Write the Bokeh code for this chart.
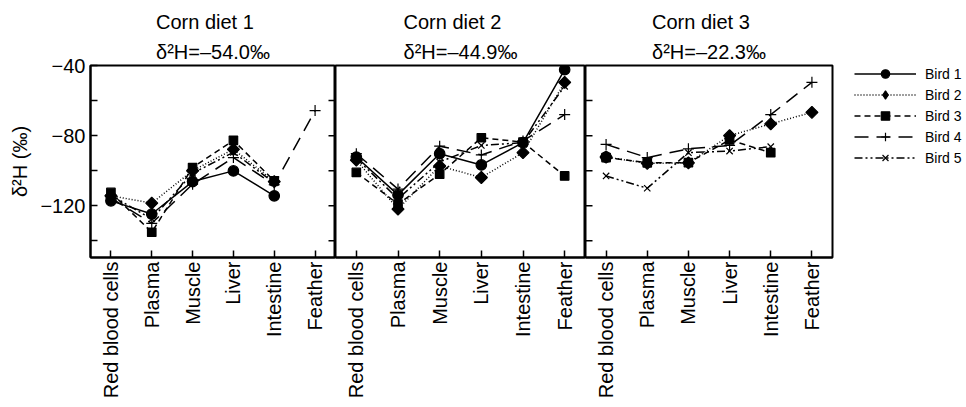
import math
from bokeh.plotting import figure
from bokeh.layouts import row
from bokeh.models import FixedTicker, Range1d, Legend, LegendItem
from bokeh.embed import file_html
from bokeh.resources import INLINE

nan = float("nan")

tissues = ["Red blood cells", "Plasma", "Muscle", "Liver", "Intestine", "Feather"]
diets = ["Corn diet 1", "Corn diet 2", "Corn diet 3"]
diet_d2h = ["δ²H=–54.0‰", "δ²H=–44.9‰", "δ²H=–22.3‰"]
birds = ["Bird 1", "Bird 2", "Bird 3", "Bird 4", "Bird 5"]

# values per diet (rows) and tissue (columns)
bird1 = [[-117.2, -124.7, -106.2, -100.1, -114.3, nan],
         [-92.2, -113.8, -90.3, -96.7, -84.0, -42.4],
         [-92.2, nan, nan, nan, nan, nan]]
bird2 = [[-114.3, -118.5, -100.0, -87.8, -106.2, nan],
         [-94.0, -121.9, -97.3, -103.9, -89.7, -49.6],
         [-92.2, -95.8, -95.5, -80.0, -73.3, -66.7]]
bird3 = [[-112.4, -135.1, -98.2, -82.7, -105.8, nan],
         [-101.0, -119.0, -102.0, -81.2, -83.7, -103.0],
         [-92.5, -95.5, -95.4, -82.5, -89.7, nan]]
bird4 = [[-115.5, -130.0, -107.7, -92.5, -108.0, -65.7],
         [-90.3, -110.5, -86.0, -91.0, -83.0, -68.0],
         [-85.0, -92.5, -87.5, -85.6, -68.0, -49.6]]
bird5 = [[-114.0, -127.5, -101.5, -89.5, -107.0, nan],
         [-93.0, -116.0, -95.0, -85.6, -84.0, -51.9],
         [-103.0, -110.0, -89.7, -88.8, -86.3, nan]]
bird_data = [bird1, bird2, bird3, bird4, bird5]

y_ticks = [-140, -120, -100, -80, -60, -40]
y_tick_labels = ["", "−120", "", "−80", "", "−40"]
y_label = "δ²H (‰)"

FONT = "Liberation Sans"
styles = [
    dict(dash="solid", marker="circle", size=10.5, angle=0.0, legend_marker="circle", legend_size=10.5),
    dict(dash="1 2", marker="square", size=8.5, angle=math.pi / 4, legend_marker="diamond", legend_size=16),
    dict(dash="6 4", marker="square", size=8.5, angle=0.0, legend_marker="square", legend_size=8.5),
    dict(dash="14 8", marker="cross", size=11, angle=0.0, legend_marker="cross", legend_size=11),
    dict(dash="8 3 2 3 2 3", marker="x", size=9, angle=0.0, legend_marker="x", legend_size=9),
]

n_t = len(tissues)
xpos = [i + 0.5 for i in range(n_t)]          # category centres on the x scale
y_range = Range1d(-149.5, -40)
inner_ticks = [t for t in y_ticks if -149.5 < t < -40]
frame_widths = [245, 250, 247]
figs = []
legend_items = []

for d in range(len(diets)):
    last = d == len(diets) - 1
    p = figure(frame_width=frame_widths[d], frame_height=192,
               x_range=Range1d(0, n_t), y_range=y_range,
               output_backend="svg", toolbar_location=None,
               min_border_left=90 if d == 0 else 0,
               min_border_right=126 if last else 0,
               min_border_top=10, min_border_bottom=10)
    p.margin = (6, 0, 0, 0)
    p.background_fill_color = "white"
    p.border_fill_color = "white"
    p.outline_line_color = "black"
    p.outline_line_width = 2
    p.xgrid.visible = False
    p.ygrid.visible = False

    p.title.text = diets[d] + "\n" + diet_d2h[d]
    p.title.align = "center"
    p.title.vertical_align = "bottom"
    p.title.standoff = 5
    p.title.text_font = FONT
    p.title.text_font_size = "20px"
    p.title.text_font_style = "normal"
    p.title.text_color = "black"
    p.title.text_line_height = 1.35

    p.xaxis.ticker = FixedTicker(ticks=xpos)
    p.xaxis.major_label_overrides = dict(zip(xpos, tissues))
    p.xaxis.major_label_orientation = math.pi / 2
    p.xaxis.major_label_text_font = FONT
    p.xaxis.major_label_text_font_size = "20px"
    p.xaxis.major_label_text_color = "black"
    p.xaxis.major_label_standoff = 4
    p.xaxis.major_tick_in = 7
    p.xaxis.major_tick_out = 0
    p.xaxis.major_tick_line_width = 1.5
    p.xaxis.minor_tick_line_color = None
    p.xaxis.axis_line_width = 2

    if d == 0:
        p.yaxis.ticker = FixedTicker(ticks=y_ticks)
        p.yaxis.major_label_overrides = dict(zip(y_ticks, y_tick_labels))
        p.yaxis.major_label_text_font = FONT
        p.yaxis.major_label_text_font_size = "20px"
        p.yaxis.major_label_text_color = "black"
        p.yaxis.major_label_standoff = 5
        p.yaxis.major_tick_in = 7
        p.yaxis.major_tick_out = 0
        p.yaxis.major_tick_line_width = 1.5
        p.yaxis.axis_line_width = 2
        p.yaxis.minor_tick_line_color = None
        p.yaxis.axis_label = y_label
        p.yaxis.axis_label_text_font = FONT
        p.yaxis.axis_label_text_font_size = "20px"
        p.yaxis.axis_label_text_font_style = "normal"
        p.yaxis.axis_label_text_color = "black"
        p.yaxis.axis_label_standoff = 6
        # inner ticks on the right border of panel 1
        p.ray(x=[n_t] * len(inner_ticks), y=inner_ticks, length=7,
              angle=math.pi, length_units="screen", line_color="black",
              line_width=1.5)
    else:
        p.yaxis.visible = False
    if last:
        p.ray(x=[0] * len(inner_ticks), y=inner_ticks, length=7, angle=0,
              length_units="screen", line_color="black", line_width=1.5)

    for b, name in enumerate(birds):
        st = styles[b]
        ys = bird_data[b][d]
        lr = p.line(xpos, ys, line_color="black", line_width=1.5,
                    line_dash=st["dash"])
        p.scatter(xpos, ys, marker=st["marker"], size=st["size"],
                  angle=st["angle"], line_color="black", fill_color="black",
                  line_width=1.2)
        if last:
            # key marker for the legend only: a single point with no y value
            kr = p.scatter(xpos[:1], [nan], marker=st["legend_marker"],
                           size=st["legend_size"], line_color="black",
                           fill_color="black", line_width=1.2)
            legend_items.append(LegendItem(label=name, renderers=[lr, kr]))

    if last:
        legend = Legend(items=legend_items, location=(22, 89),
                        orientation="vertical", padding=0, spacing=0, margin=0,
                        glyph_width=62, glyph_height=21, label_height=21,
                        label_standoff=9, label_text_font=FONT,
                        label_text_font_size="14px", label_text_color="black",
                        border_line_alpha=0, background_fill_alpha=0)
        p.add_layout(legend, "right")
    figs.append(p)

layout = row(*figs, spacing=0)
open("out.html", "w").write(file_html(layout, INLINE))
